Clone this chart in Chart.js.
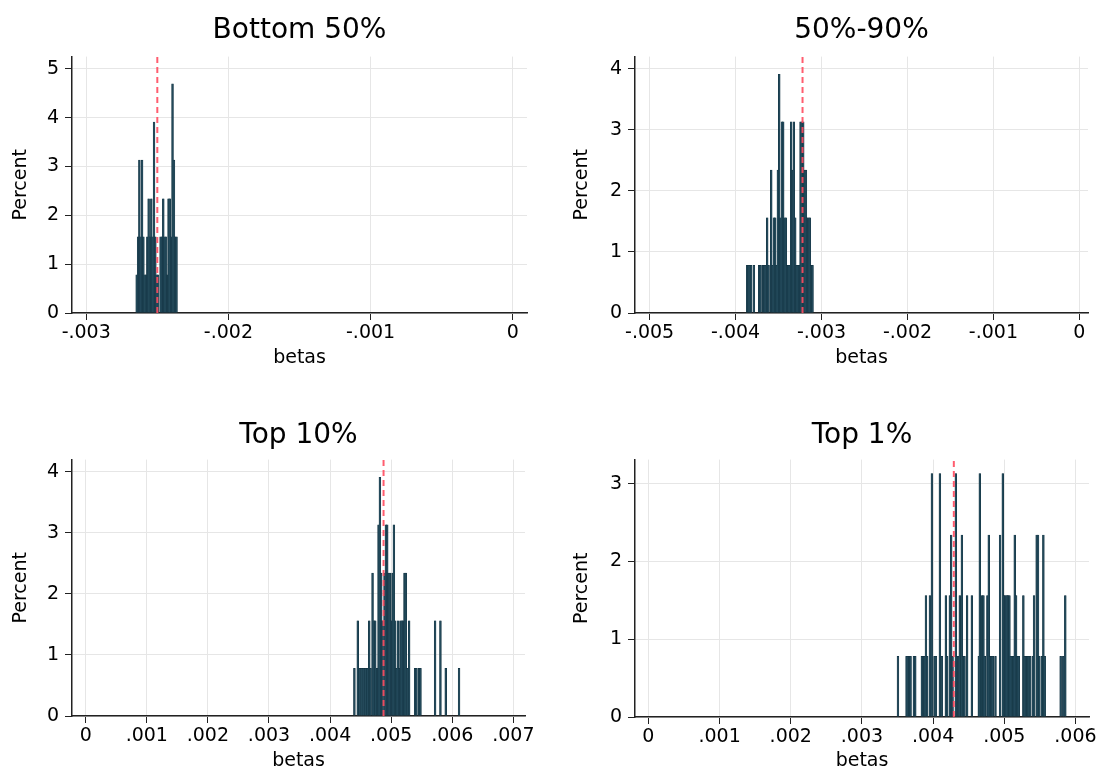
<!DOCTYPE html>
<html>
<head>
<meta charset="utf-8">
<script src="https://cdn.jsdelivr.net/npm/chart.js@4.4.1/dist/chart.umd.min.js"></script>
<style>
  html, body { margin: 0; padding: 0; background: #fff; }
  #wrap { position: relative; width: 1102px; height: 772px; }
  .panel { position: absolute; width: 551px; }
</style>
</head>
<body>
<div id="wrap">
  <div class="panel" style="left:0;top:0;height:370px"><canvas id="p1"></canvas></div>
  <div class="panel" style="left:551px;top:0;height:370px"><canvas id="p2"></canvas></div>
  <div class="panel" style="left:0;top:386px;height:386px"><canvas id="p3"></canvas></div>
  <div class="panel" style="left:551px;top:386px;height:386px"><canvas id="p4"></canvas></div>
</div>
<script>
// Bottom 50%
const bottomBins = [-0.002645,-0.002635,-0.002626,-0.002617,-0.002607,-0.002598,-0.002589,-0.002579,-0.002570,-0.002561,-0.002551,-0.002542,-0.002533,-0.002523,-0.002514,-0.002505,-0.002495,-0.002477,-0.002467,-0.002458,-0.002449,-0.002439,-0.002430,-0.002421,-0.002412,-0.002402,-0.002393,-0.002383,-0.002374,-0.002365];
const bottomPct = [0.78,1.56,3.13,1.56,3.13,1.56,0.78,0.78,1.56,2.34,1.56,2.34,1.56,3.91,1.56,0.78,0.78,1.56,1.56,2.34,1.56,1.56,0.78,2.34,2.34,1.56,4.69,3.13,1.56,1.56];
const bottomMean = -0.0025;
const bottomTicks = [-0.003, -0.002, -0.001, 0];
const bottomLabels = ['-.003', '-.002', '-.001', '0'];

// 50%-90%
const midBins = [-0.003864,-0.003849,-0.003833,-0.003818,-0.003787,-0.003725,-0.003709,-0.003678,-0.003663,-0.003647,-0.003632,-0.003616,-0.003585,-0.003570,-0.003554,-0.003539,-0.003523,-0.003508,-0.003492,-0.003477,-0.003461,-0.003446,-0.003430,-0.003415,-0.003399,-0.003384,-0.003368,-0.003353,-0.003337,-0.003322,-0.003306,-0.003291,-0.003275,-0.003260,-0.003244,-0.003229,-0.003213,-0.003198,-0.003182,-0.003167,-0.003151,-0.003136,-0.003120,-0.003105];
const midPct = [0.78,0.78,0.78,0.78,0.78,0.78,0.78,0.78,0.78,0.78,1.56,0.78,2.34,0.78,1.56,1.56,0.78,2.34,3.91,1.56,3.13,3.13,1.56,1.56,0.78,0.78,0.78,3.13,2.34,3.13,1.56,0.78,0.78,0.78,3.13,3.13,3.13,2.34,2.34,1.56,1.56,1.56,0.78,0.78];
const midMean = -0.003221;
const midTicks = [-0.005, -0.004, -0.003, -0.002, -0.001, 0];
const midLabels = ['-.005', '-.004', '-.003', '-.002', '-.001', '0'];

// Top 10%
const top10Bins = [0.004398,0.004453,0.004488,0.004521,0.004553,0.004586,0.004608,0.004641,0.004662,0.004695,0.004717,0.004739,0.004771,0.004793,0.004815,0.004837,0.004858,0.004891,0.004913,0.004935,0.004956,0.004978,0.005000,0.005022,0.005044,0.005065,0.005087,0.005109,0.005131,0.005152,0.005174,0.005196,0.005218,0.005240,0.005261,0.005294,0.005392,0.005414,0.005458,0.005479,0.005719,0.005806,0.005893,0.006111];
const top10Pct = [0.78,1.56,0.78,0.78,0.78,0.78,0.78,1.56,0.78,2.34,1.56,1.56,0.78,3.13,3.91,2.34,1.56,2.34,3.13,3.13,2.34,2.34,1.56,2.34,3.13,1.56,0.78,1.56,0.78,1.56,1.56,1.56,2.34,2.34,0.78,1.56,0.78,0.78,0.78,0.78,1.56,1.56,0.78,0.78];
const top10Mean = 0.004875;
const top10Ticks = [0, 0.001, 0.002, 0.003, 0.004, 0.005, 0.006, 0.007];
const top10Labels = ['0', '.001', '.002', '.003', '.004', '.005', '.006', '.007'];

// Top 1%
const top1Bins = [0.003506,0.003627,0.003646,0.003665,0.003683,0.003730,0.003749,0.003842,0.003861,0.003880,0.003899,0.003917,0.003955,0.003983,0.004020,0.004039,0.004095,0.004123,0.004179,0.004198,0.004235,0.004254,0.004273,0.004319,0.004338,0.004357,0.004375,0.004404,0.004422,0.004441,0.004478,0.004544,
  0.004642,0.004656,0.004689,0.004707,0.004726,0.004763,0.004782,0.004801,0.004820,0.004838,0.004876,0.004941,0.004979,0.004997,0.005016,0.005035,0.005053,0.005072,0.005091,0.005109,0.005128,0.005147,0.005166,0.005184,0.005203,0.005268,0.005287,0.005306,0.005324,0.005343,0.005362,0.005399,0.005418,0.005455,0.005474,0.005493,0.005530,0.005549,0.005568,0.005792,0.005829,0.005857];
const top1Pct = [0.78,0.78,0.78,0.78,0.78,0.78,0.78,0.78,0.78,0.78,1.56,0.78,1.56,3.13,0.78,0.78,3.13,0.78,1.56,0.78,1.56,2.34,0.78,3.13,0.78,0.78,1.56,2.34,0.78,0.78,1.56,1.56,
  0.78,3.13,1.56,1.56,0.78,1.56,2.34,0.78,0.78,0.78,0.78,2.34,3.13,1.56,1.56,1.56,1.56,1.56,0.78,0.78,0.78,2.34,1.56,0.78,0.78,1.56,0.78,0.78,0.78,0.78,0.78,0.78,1.56,2.34,2.34,0.78,0.78,2.34,0.78,0.78,0.78,1.56];
const top1Mean = 0.004291;
const top1Ticks = [0, 0.001, 0.002, 0.003, 0.004, 0.005, 0.006];
const top1Labels = ['0', '.001', '.002', '.003', '.004', '.005', '.006'];

const FONT = 'DejaVu Sans';

function drawPanel(id, c) {
  const bars = c.bins.map((b, i) => ({ x: b, y: c.pct[i] }));
  new Chart(document.getElementById(id), {
    type: 'bar',
    data: {
      datasets: [
        {
          type: 'line',
          data: [{ x: c.mean, y: 0 }, { x: c.mean, y: c.ymax }],
          borderColor: 'rgba(255,75,95,0.9)',
          borderWidth: 2,
          borderDash: [6, 4],
          pointRadius: 0,
          order: 0
        },
        {
          type: 'bar',
          data: bars,
          backgroundColor: '#23495a',
          borderColor: '#0d2c3a',
          borderWidth: 0.4,
          barThickness: 1.8,
          order: 1
        }
      ]
    },
    options: {
      responsive: true,
      maintainAspectRatio: false,
      animation: false,
      layout: { padding: { left: 0, right: c.padRight, top: 0, bottom: 0 } },
      plugins: {
        legend: { display: false },
        tooltip: { enabled: false },
        title: {
          display: true,
          text: c.title,
          fullSize: false,
          color: '#000',
          font: { family: FONT, size: 28, weight: 'normal' },
          padding: { top: c.titleTop, bottom: c.titleBottom }
        }
      },
      scales: {
        x: {
          type: 'linear',
          min: c.xmin,
          max: c.xmax,
          offset: false,
          grid: { offset: false, color: '#e6e6e6', tickColor: '#222', tickLength: 7 },
          border: { color: '#222', width: 1.5 },
          afterBuildTicks: s => { s.ticks = c.ticks.map(v => ({ value: v })); },
          afterFit: s => { s.height = c.xAxisH; },
          ticks: {
            autoSkip: false,
            maxRotation: 0,
            padding: 2,
            color: '#000',
            font: { family: FONT, size: 19 },
            callback: (v, i) => c.labels[i]
          },
          title: {
            display: true,
            text: 'betas',
            color: '#000',
            font: { family: FONT, size: 19 },
            padding: { top: 0, bottom: c.xTitlePad }
          }
        },
        y: {
          min: 0,
          max: c.ymax,
          grid: { color: '#e6e6e6', tickColor: '#222', tickLength: 7 },
          border: { color: '#222', width: 1.5 },
          afterFit: s => { s.width = c.yAxisW; },
          ticks: {
            stepSize: 1,
            includeBounds: false,
            padding: 6,
            color: '#000',
            font: { family: FONT, size: 19 }
          },
          title: {
            display: true,
            text: 'Percent',
            color: '#000',
            font: { family: FONT, size: 19 },
            padding: { top: c.yTitlePad, bottom: 0 }
          }
        }
      }
    }
  });
}

drawPanel('p1', {
  title: 'Bottom 50%', bins: bottomBins, pct: bottomPct, mean: bottomMean,
  ticks: bottomTicks, labels: bottomLabels, xmin: -0.0031, xmax: 0.0001, ymax: 5.25,
  yAxisW: 72, padRight: 24, xAxisH: 57, titleTop: 14, titleBottom: 9, yTitlePad: 10, xTitlePad: 1
});
drawPanel('p2', {
  title: '50%-90%', bins: midBins, pct: midPct, mean: midMean,
  ticks: midTicks, labels: midLabels, xmin: -0.00517, xmax: 0.0001, ymax: 4.2,
  yAxisW: 84, padRight: 14, xAxisH: 57, titleTop: 14, titleBottom: 9, yTitlePad: 20, xTitlePad: 1
});
drawPanel('p3', {
  title: 'Top 10%', bins: top10Bins, pct: top10Pct, mean: top10Mean,
  ticks: top10Ticks, labels: top10Labels, xmin: -0.000224, xmax: 0.00719, ymax: 4.2,
  yAxisW: 72, padRight: 26, xAxisH: 56, titleTop: 33, titleBottom: 7, yTitlePad: 10, xTitlePad: 0
});
drawPanel('p4', {
  title: 'Top 1%', bins: top1Bins, pct: top1Pct, mean: top1Mean,
  ticks: top1Ticks, labels: top1Labels, xmin: -0.000188, xmax: 0.00619, ymax: 3.31,
  yAxisW: 84, padRight: 13, xAxisH: 55, titleTop: 33, titleBottom: 7, yTitlePad: 20, xTitlePad: 0
});
</script>
</body>
</html>
